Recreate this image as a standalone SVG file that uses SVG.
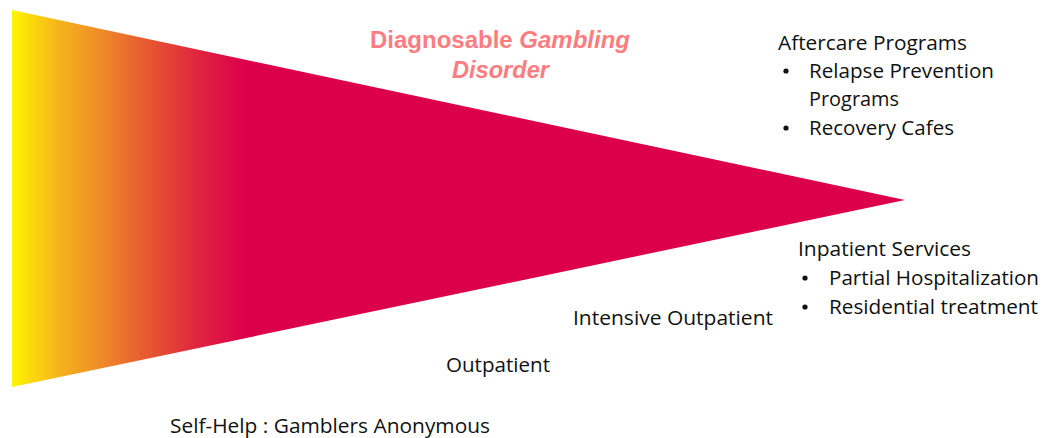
<svg xmlns="http://www.w3.org/2000/svg" width="1045" height="438" viewBox="0 0 1045 438">
<defs>
<linearGradient id="g" gradientUnits="userSpaceOnUse" x1="12" y1="0" x2="245" y2="0">
<stop offset="0" stop-color="#FFF500"/>
<stop offset="0.2" stop-color="#F6B41C"/>
<stop offset="0.4" stop-color="#EE862A"/>
<stop offset="0.6" stop-color="#E65331"/>
<stop offset="0.8" stop-color="#E0243F"/>
<stop offset="1" stop-color="#DC004A"/>
</linearGradient>
</defs>
<style>
.t{font-family:"Open Sans","Liberation Sans",sans-serif;font-size:20.5px;fill:#111}
.h{font-family:"Liberation Sans",Arial,sans-serif;font-size:23px;font-weight:bold;fill:#FF7C80}
.b{fill:#111}
</style>
<g id="wedge">
<polygon points="12,10 905,200 12,387" fill="url(#g)"/>
</g>
<g id="title">
<text class="h" x="370" y="48" textLength="260" lengthAdjust="spacingAndGlyphs">Diagnosable <tspan font-style="italic">Gambling</tspan></text>
<text class="h" x="452" y="78" font-style="italic" textLength="97" lengthAdjust="spacingAndGlyphs">Disorder</text>
</g>
<g id="aftercare">
<text class="t" x="778" y="50" textLength="189" lengthAdjust="spacingAndGlyphs">Aftercare Programs</text>
<circle class="b" cx="786" cy="71" r="2.6"/>
<text class="t" x="809" y="78" textLength="185" lengthAdjust="spacingAndGlyphs">Relapse Prevention</text>
<text class="t" x="809" y="106" textLength="90" lengthAdjust="spacingAndGlyphs">Programs</text>
<circle class="b" cx="786" cy="128" r="2.6"/>
<text class="t" x="809" y="135" textLength="145" lengthAdjust="spacingAndGlyphs">Recovery Cafes</text>
</g>
<g id="inpatient">
<text class="t" x="798" y="256" textLength="173" lengthAdjust="spacingAndGlyphs">Inpatient Services</text>
<circle class="b" cx="805" cy="278" r="2.6"/>
<text class="t" x="829" y="285" textLength="210" lengthAdjust="spacingAndGlyphs">Partial Hospitalization</text>
<circle class="b" cx="805" cy="307" r="2.6"/>
<text class="t" x="829" y="314" textLength="209" lengthAdjust="spacingAndGlyphs">Residential treatment</text>
</g>
<g id="intensive">
<text class="t" x="573" y="325" textLength="200" lengthAdjust="spacingAndGlyphs">Intensive Outpatient</text>
</g>
<g id="outpatient">
<text class="t" x="446" y="372" textLength="104" lengthAdjust="spacingAndGlyphs">Outpatient</text>
</g>
<g id="selfhelp">
<text class="t" x="170" y="433" textLength="320" lengthAdjust="spacingAndGlyphs">Self-Help : Gamblers Anonymous</text>
</g>
<g id="connectors"/>
</svg>
